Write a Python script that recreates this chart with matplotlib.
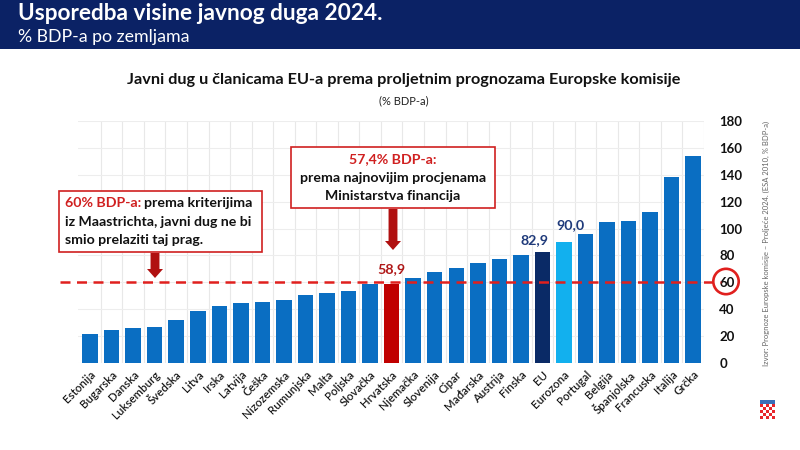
import matplotlib
matplotlib.use("Agg")
import matplotlib.pyplot as plt
from matplotlib.patches import Rectangle, Circle, FancyArrow
from matplotlib.transforms import IdentityTransform
import numpy as np

plt.rcParams['font.family'] = ['Lato', 'DejaVu Sans']

countries = ["Estonija", "Bugarska", "Danska", "Luksemburg", "Švedska", "Litva", "Irska",
             "Latvija", "Češka", "Nizozemska", "Rumunjska", "Malta", "Poljska", "Slovačka",
             "Hrvatska", "Njemačka", "Slovenija", "Cipar", "Mađarska", "Austrija", "Finska",
             "EU", "Eurozona", "Portugal", "Belgija", "Španjolska", "Francuska", "Italija", "Grčka"]
debt = [21.5, 24.9, 26.4, 26.9, 32.1, 38.8, 42.5, 44.5, 45.2, 47.0, 50.9, 52.2, 53.6, 58.6,
        58.9, 63.0, 68.0, 70.5, 74.4, 77.6, 80.3, 82.9, 90.0, 95.7, 104.8, 105.3, 112.2, 138.4, 153.8]
yticks = [0, 20, 40, 60, 80, 100, 120, 140, 160, 180]
threshold = 60
labelled = {"Hrvatska": "58,9", "EU": "82,9", "Eurozona": "90,0"}

colors = []
for c in countries:
    if c == "Hrvatska":
        colors.append("#C00000")
    elif c == "EU":
        colors.append("#0A2A66")
    elif c == "Eurozona":
        colors.append("#12B0EE")
    else:
        colors.append("#0A6EC2")

W, H = 800, 450
fig = plt.figure(figsize=(8, 4.5), dpi=100)
fig.patch.set_facecolor("white")

def fx(px):
    return px / W

def fy(py):
    return 1 - py / H

# header band
fig.patches.append(Rectangle((0, fy(49)), 1, 49 / H, transform=fig.transFigure,
                             facecolor="#0B2265", edgecolor="none", zorder=0))
fig.text(fx(18), fy(14), "Usporedba visine javnog duga 2024.", color="white",
         fontsize=16.3, fontweight="bold", va="center", ha="left")
fig.text(fx(18), fy(37), "% BDP-a po zemljama", color="white", fontsize=12.8,
         va="center", ha="left")

# chart titles
fig.text(fx(404), fy(80), "Javni dug u članicama EU-a prema proljetnim prognozama Europske komisije",
         fontsize=11.7, fontweight="bold", ha="center", va="center", color="#111111")
fig.text(fx(404), fy(101), "(% BDP-a)", fontsize=8, ha="center", va="center", color="#222222")

# main axes
left, right, top, bottom = 78, 704, 120.7, 363.3
ax = fig.add_axes([fx(left), fy(bottom), (right - left) / W, (bottom - top) / H])
x = np.arange(len(countries))
ax.bar(x, debt, width=0.72, color=colors, zorder=3)
ax.set_ylim(0, 180)
ax.set_xlim(-0.56, 28.46)
ax.set_yticks(yticks)
ax.yaxis.tick_right()
ax.tick_params(axis="y", length=0, pad=11, labelsize=9.5)
for lab in ax.get_yticklabels():
    lab.set_fontweight("bold")
    lab.set_color("#111111")
ax.set_xticks(x)
ax.set_xticklabels(countries, rotation=45, ha="right", rotation_mode="anchor",
                   fontsize=8.3, color="#1A1A1A", fontweight="semibold")
ax.tick_params(axis="x", length=0, pad=4)
for s in ax.spines.values():
    s.set_visible(False)
ax.set_xticks(x + 0.5, minor=True)
ax.grid(axis="x", which="minor", color="#E8E8E8", lw=0.8, zorder=0)
ax.grid(axis="y", which="major", color="#EDEDED", lw=0.8, zorder=0)
ax.tick_params(axis="x", which="minor", length=0)

# threshold dashed line (ends at the circle around the 60 label)
ax.plot([-1.4, 29.3], [threshold, threshold], ls=(0, (4, 2.6)), color="#E0201E",
        lw=1.8, zorder=4, clip_on=False)

# value labels (offsets in x categories and y units)
label_offsets = {"Hrvatska": (0.0, 11.0), "EU": (-0.35, 8.8), "Eurozona": (0.3, 12.6)}
for i, c in enumerate(countries):
    if c in labelled:
        col = "#B01818" if c == "Hrvatska" else "#1F3A7A"
        dx, dy = label_offsets[c]
        ax.text(i + dx, debt[i] + dy, labelled[c], ha="center", va="center",
                fontsize=10.3, fontweight="bold", color=col, zorder=5)

# circle around 60 label (pixel coordinates)
fig.patches.append(Circle((726, H - 281.5), 12.7, transform=IdentityTransform(),
                          facecolor="none", edgecolor="#E0201E", lw=1.9, zorder=5))

FS = 10.2
# annotation box 1
fig.patches.append(Rectangle((fx(59), fy(252)), (262 - 59) / W, (252 - 191) / H,
                             transform=fig.transFigure, facecolor="white",
                             edgecolor="#D02020", lw=1.2, zorder=5))
t = fig.text(fx(65), fy(203), "60% BDP-a:", color="#D02020", fontsize=FS,
             fontweight="bold", va="center", ha="left", zorder=6)
fig.canvas.draw()
bb = t.get_window_extent()
fig.text(bb.x1 / W + fx(3), fy(203), "prema kriterijima", color="#111111", fontsize=FS,
         fontweight="bold", va="center", ha="left", zorder=6)
fig.text(fx(65), fy(221.5), "iz Maastrichta, javni dug ne bi", color="#111111",
         fontsize=FS, fontweight="bold", va="center", ha="left", zorder=6)
fig.text(fx(65), fy(240), "smio prelaziti taj prag.", color="#111111",
         fontsize=FS, fontweight="bold", va="center", ha="left", zorder=6)

# annotation box 2
fig.patches.append(Rectangle((fx(291), fy(208)), (495 - 291) / W, (208 - 147) / H,
                             transform=fig.transFigure, facecolor="white",
                             edgecolor="#D02020", lw=1.2, zorder=5))
fig.text(fx(393), fy(159.5), "57,4% BDP-a:", color="#D02020", fontsize=FS,
         fontweight="bold", va="center", ha="center", zorder=6)
fig.text(fx(393), fy(178), "prema najnovijim procjenama", color="#111111", fontsize=FS,
         fontweight="bold", va="center", ha="center", zorder=6)
fig.text(fx(393), fy(196.5), "Ministarstva financija", color="#111111", fontsize=FS,
         fontweight="bold", va="center", ha="center", zorder=6)

# arrows
def arrow(xc, y0, y1):
    fig.patches.append(FancyArrow(fx(xc), fy(y0), 0, -(y1 - y0) / H, width=5 / H,
                                  head_width=16 / W, head_length=9 / H,
                                  length_includes_head=True, transform=fig.transFigure,
                                  facecolor="#B01010", edgecolor="none", zorder=6))

arrow(155, 253, 278)
arrow(393, 209, 250)

# source
fig.text(fx(766), fy(243), "Izvor: Prognoze Europske komisije – Proljeće 2024. (ESA 2010, % BDP-a)",
         rotation=90, fontsize=5.5, color="#666666", ha="center", va="center")

# coat of arms (small checkerboard)
n = 5
cs = 3.0
x0, y0 = 759.5, 404
for r in range(n):
    for c in range(n):
        colr = "#E8262B" if (r + c) % 2 == 0 else "white"
        fig.patches.append(Rectangle((fx(x0 + c * cs), fy(y0 + (r + 1) * cs)), cs / W, cs / H,
                                     transform=fig.transFigure, facecolor=colr,
                                     edgecolor="none", zorder=3))
fig.patches.append(Rectangle((fx(x0), fy(y0)), n * cs / W, 4 / H, transform=fig.transFigure,
                             facecolor="#3A6FB8", edgecolor="none", zorder=3))

fig.savefig("out.png", dpi=100)
